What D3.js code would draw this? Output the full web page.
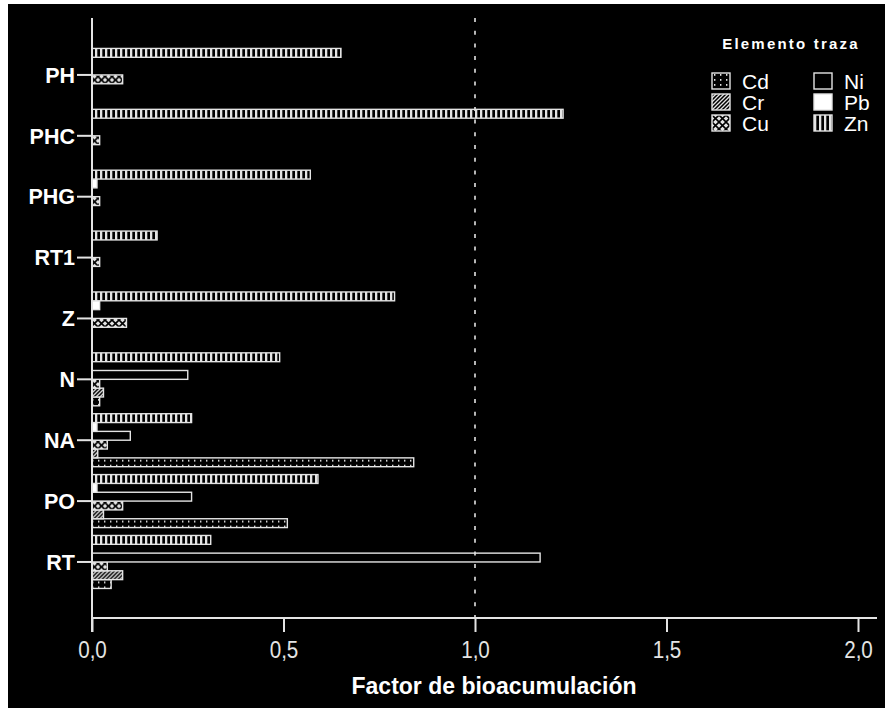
<!DOCTYPE html>
<html>
<head>
<meta charset="utf-8">
<script src="https://cdn.jsdelivr.net/npm/d3@7"></script>
<style>
  html, body { margin: 0; padding: 0; background: #ffffff; }
  svg { display: block; }
</style>
</head>
<body>
<svg id="chart" width="885" height="708"></svg>
<script>
// Sampling sites (top to bottom) and bioaccumulation factor per trace element
const categories = ["PH", "PHC", "PHG", "RT1", "Z", "N", "NA", "PO", "RT"];
const Cd = [0, 0, 0, 0, 0, 0.02, 0.84, 0.51, 0.05];
const Cr = [0, 0, 0, 0, 0, 0.03, 0.015, 0.03, 0.08];
const Cu = [0.08, 0.02, 0.02, 0.02, 0.09, 0.02, 0.04, 0.08, 0.04];
const Ni = [0, 0, 0, 0, 0, 0.25, 0.10, 0.26, 1.17];
const Pb = [0, 0, 0.013, 0, 0.02, 0, 0.013, 0.013, 0];
const Zn = [0.65, 1.23, 0.57, 0.17, 0.79, 0.49, 0.26, 0.59, 0.31];

const elements = ["Cd", "Cr", "Cu", "Ni", "Pb", "Zn"];
const seriesValues = { Cd, Cr, Cu, Ni, Pb, Zn };
// Order of bars inside a group, from top to bottom
const barOrder = ["Zn", "Pb", "Ni", "Cu", "Cr", "Cd"];
const xTicks = [0, 0.5, 1.0, 1.5, 2.0];
const refValue = 1.0;

const rows = categories.map((c, i) => ({
  cat: c,
  values: elements.map(e => ({ el: e, v: seriesValues[e][i] }))
}));

const svg = d3.select("#chart");
const W = 885, H = 708;
const fg = "#e4e4e4";
const font = "'Liberation Sans', Arial, sans-serif";

// dark panel
svg.append("rect").attr("x", 8).attr("y", 4).attr("width", W - 8).attr("height", H - 4).attr("fill", "#000");

// fill patterns for each element
const defs = svg.append("defs");
function pat(id, w, h) {
  return defs.append("pattern").attr("id", id).attr("patternUnits", "userSpaceOnUse")
    .attr("width", w).attr("height", h);
}
// Cd: dotted columns
let p = pat("p-Cd", 6, 5);
p.append("rect").attr("width", 6).attr("height", 5).attr("fill", "#000");
p.append("rect").attr("x", 2).attr("y", 1).attr("width", 1.4).attr("height", 1.8).attr("fill", fg);
// Cr: diagonal hatch
p = pat("p-Cr", 4, 4);
p.append("rect").attr("width", 4).attr("height", 4).attr("fill", "#000");
p.append("path").attr("d", "M-1,1 L1,-1 M0,4 L4,0 M3,5 L5,3").attr("stroke", fg).attr("stroke-width", 1.3);
// Cu: white diamonds between crossing lines
p = pat("p-Cu", 7, 7);
p.append("rect").attr("width", 7).attr("height", 7).attr("fill", fg);
p.append("path").attr("d", "M0,0 L7,7 M7,0 L0,7").attr("stroke", "#000").attr("stroke-width", 1.6);
// Zn: vertical lines
p = pat("p-Zn", 5, 5);
p.append("rect").attr("width", 5).attr("height", 5).attr("fill", "#000");
p.append("rect").attr("x", 0).attr("width", 2.3).attr("height", 5).attr("fill", fg);

const fills = { Cd: "url(#p-Cd)", Cr: "url(#p-Cr)", Cu: "url(#p-Cu)", Ni: "#000", Pb: "#ffffff", Zn: "url(#p-Zn)" };

// scales
const x0 = 92;
const x = d3.scaleLinear().domain([0, 2.0]).range([x0, 858]);
const y = d3.scaleBand().domain(categories).range([44.5, 592.4]).paddingInner(0.13).paddingOuter(0.065);
const ySub = d3.scaleBand().domain(barOrder).range([0, y.bandwidth()]);

const axisY = 618, plotTop = 18, plotRight = 877;

// bars
const g = svg.append("g");
const groups = g.selectAll("g.grp").data(rows).join("g")
  .attr("class", "grp")
  .attr("transform", d => `translate(0,${y(d.cat)})`);
groups.selectAll("rect").data(d => d.values.filter(v => v.v > 0)).join("rect")
  .attr("x", x(0))
  .attr("y", d => ySub(d.el))
  .attr("width", d => x(d.v) - x(0))
  .attr("height", ySub.bandwidth())
  .attr("fill", d => fills[d.el])
  .attr("stroke", fg)
  .attr("stroke-width", 1.4);

// reference line at 1.0
svg.append("line")
  .attr("x1", x(refValue)).attr("x2", x(refValue))
  .attr("y1", plotTop).attr("y2", axisY)
  .attr("stroke", fg).attr("stroke-width", 1.6)
  .attr("stroke-dasharray", "4 8.7");

// x axis
const xAxis = d3.axisBottom(x).tickValues(xTicks).tickSize(14)
  .tickFormat(d => d3.format(".1f")(d).replace(".", ","));
const gx = svg.append("g").attr("transform", `translate(0,${axisY})`).call(xAxis);
gx.select(".domain").remove();
gx.append("line").attr("x1", x0).attr("x2", plotRight).attr("stroke", fg).attr("stroke-width", 2);
gx.selectAll(".tick line").attr("stroke", fg).attr("stroke-width", 2);
gx.selectAll(".tick text").attr("fill", fg)
  .attr("font-family", font)
  .attr("font-size", 24).attr("dy", null).attr("y", 40)
  .attr("transform", "scale(0.86,1)");

// y axis
const yAxis = d3.axisLeft(y).tickSize(15);
const gy = svg.append("g").attr("transform", `translate(${x0},0)`).call(yAxis);
gy.select(".domain").remove();
gy.append("line").attr("y1", plotTop).attr("y2", axisY + 14).attr("stroke", fg).attr("stroke-width", 2);
gy.selectAll(".tick line").attr("stroke", fg).attr("stroke-width", 2);
gy.selectAll(".tick text").attr("fill", "#fff")
  .attr("font-family", font)
  .attr("font-weight", "bold").attr("font-size", 21.5).attr("x", -17).attr("dy", "0.36em");

// axis title
svg.append("text").attr("x", 494).attr("y", 694)
  .attr("text-anchor", "middle").attr("fill", "#fff")
  .attr("font-family", font)
  .attr("font-weight", "bold").attr("font-size", 23)
  .text("Factor de bioacumulación");

// legend
const lg = svg.append("g");
lg.append("text").attr("x", 791).attr("y", 48.5).attr("text-anchor", "middle")
  .attr("fill", "#fff").attr("font-family", font)
  .attr("font-weight", "bold").attr("font-size", 15).attr("letter-spacing", 2.2)
  .text("Elemento traza");
const legendItems = lg.selectAll("g.item").data(elements).join("g")
  .attr("class", "item")
  .attr("transform", (d, i) => `translate(${i < 3 ? 712 : 814},${73 + (i % 3) * 21})`);
legendItems.append("rect").attr("width", 18).attr("height", 16)
  .attr("fill", d => fills[d]).attr("stroke", fg).attr("stroke-width", 1.4);
legendItems.append("text").attr("x", 30).attr("y", 8).attr("dy", "0.36em")
  .attr("fill", "#fff").attr("font-family", font)
  .attr("font-size", 21).text(d => d);
</script>
</body>
</html>
